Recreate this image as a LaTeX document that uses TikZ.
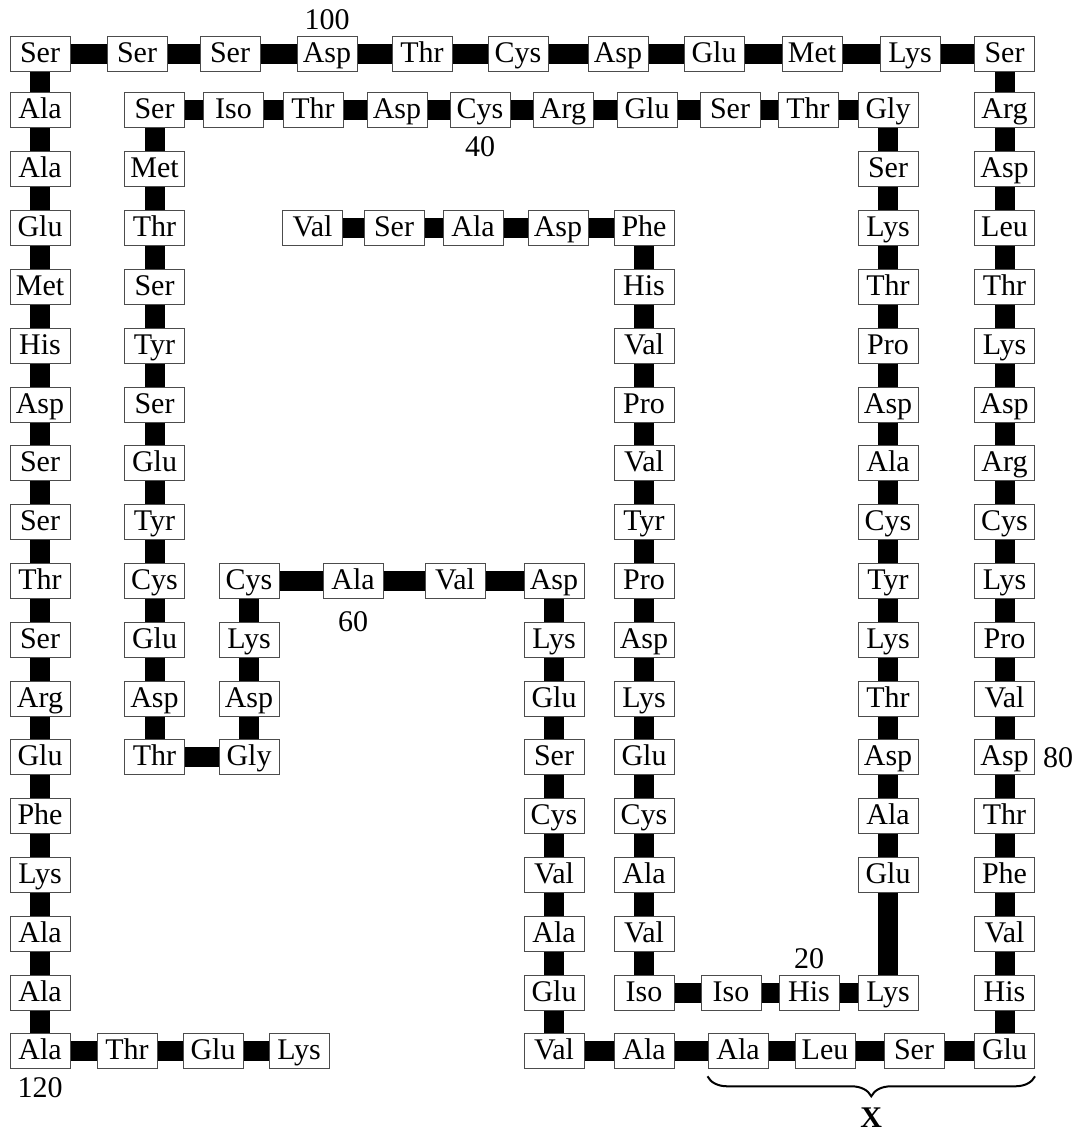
\documentclass[tikz,border=0pt]{standalone}
\usepackage{fontspec}
\setmainfont{Liberation Serif}
\usetikzlibrary{positioning, decorations.pathreplacing}

\tikzset{
  res/.style={draw=black!70, line width=1pt, fill=white, minimum width=60pt, minimum height=35pt,
    inner sep=0pt, text height=21pt, text depth=4pt, font=\fontsize{30}{31}\selectfont},
  bond/.style={line width=20pt, line cap=butt},
  num/.style={inner sep=0pt, font=\fontsize{30}{31}\selectfont},
  xbrace/.style={decorate, decoration={brace, mirror, amplitude=20pt}, line width=2pt},
}

\begin{document}
\begin{tikzpicture}[x=1pt, y=-1pt]
\useasboundingbox (0,0) rectangle (1080,1134);

% Top row
\foreach \x/\lab [count=\i] in {40/Ser, 137/Ser, 230/Ser, 327/Asp, 422/Thr, 518/Cys, 618/Asp, 714/Glu, 812/Met, 910/Lys, 1004.5/Ser}
  \node[res] (top\i) at (\x,54.5) {\lab};

% Outer columns
\foreach \lab [count=\i] in {Ala,Ala,Glu,Met,His,Asp,Ser,Ser,Thr,Ser,Arg,Glu,Phe,Lys,Ala,Ala,Ala}
  \node[res] (lc\i) at (40,{110.5+58.8*(\i-1)}) {\lab};
\foreach \lab [count=\i] in {Arg,Asp,Leu,Thr,Lys,Asp,Arg,Cys,Lys,Pro,Val,Asp,Thr,Phe,Val,His,Glu}
  \node[res] (rc\i) at (1004.5,{110.5+58.8*(\i-1)}) {\lab};

% Bottom left tail
\foreach \x/\lab [count=\i] in {127/Thr, 213/Glu, 299/Lys}
  \node[res] (bl\i) at (\x,{110.5+58.8*16}) {\lab};

% Inner loop, second row
\foreach \lab [count=\i] in {Ser,Met,Thr,Ser,Tyr,Ser,Glu,Tyr,Cys,Glu,Asp,Thr}
  \node[res] (kc\i) at (154.5,{110.5+58.8*(\i-1)}) {\lab};
\foreach \x/\lab [count=\i] in {233.5/Iso, 313/Thr, 397/Asp, 480/Cys, 563/Arg, 647/Glu, 730/Ser, 808/Thr}
  \node[res] (n\i) at (\x,110.5) {\lab};
\foreach \lab [count=\i] in {Gly,Ser,Lys,Thr,Pro,Asp,Ala,Cys,Tyr,Lys,Thr,Asp,Ala,Glu}
  \node[res] (gc\i) at (888,{110.5+58.8*(\i-1)}) {\lab};
\foreach \x/\lab [count=\i] in {731/Iso, 809/His, 888/Lys}
  \node[res] (h\i) at (\x,{110.5+58.8*15}) {\lab};

% N-terminal arm
\foreach \x/\lab [count=\i] in {312.5/Val, 394/Ser, 473/Ala, 558/Asp}
  \node[res] (v\i) at (\x,{110.5+58.8*2}) {\lab};
\foreach \lab [count=\i from 3] in {Phe,His,Val,Pro,Val,Tyr,Pro,Asp,Lys,Glu,Cys,Ala,Val,Iso}
  \node[res] (pc\i) at (644,{110.5+58.8*(\i-1)}) {\lab};

% Middle loop
\foreach \lab [count=\i from 9] in {Cys,Lys,Asp,Gly}
  \node[res] (dc\i) at (249,{110.5+58.8*(\i-1)}) {\lab};
\foreach \x/\lab [count=\i] in {353/Ala, 455/Val}
  \node[res] (m\i) at (\x,{110.5+58.8*8}) {\lab};
\foreach \lab [count=\i from 9] in {Asp,Lys,Glu,Ser,Cys,Val,Ala,Glu,Val}
  \node[res] (mc\i) at (554,{110.5+58.8*(\i-1)}) {\lab};
\foreach \x/\lab [count=\i] in {644/Ala, 738/Ala, 825/Leu, 914/Ser}
  \node[res] (br\i) at (\x,{110.5+58.8*16}) {\lab};

% Bonds
\foreach \i [evaluate=\i as \j using int(\i+1)] in {1,...,10} \draw[bond] (top\i) -- (top\j);
\foreach \i [evaluate=\i as \j using int(\i+1)] in {1,...,16} {
  \draw[bond] (lc\i) -- (lc\j);
  \draw[bond] (rc\i) -- (rc\j);
}
\draw[bond] (top1) -- (lc1);
\draw[bond] (top11) -- (rc1);
\draw[bond] (lc17) -- (bl1);
\foreach \i [evaluate=\i as \j using int(\i+1)] in {1,2} \draw[bond] (bl\i) -- (bl\j);

\foreach \i [evaluate=\i as \j using int(\i+1)] in {1,...,11} \draw[bond] (kc\i) -- (kc\j);
\draw[bond] (kc1) -- (n1);
\foreach \i [evaluate=\i as \j using int(\i+1)] in {1,...,7} \draw[bond] (n\i) -- (n\j);
\draw[bond] (n8) -- (gc1);
\foreach \i [evaluate=\i as \j using int(\i+1)] in {1,...,13} \draw[bond] (gc\i) -- (gc\j);
\draw[bond] (gc14) -- (h3);
\draw[bond] (pc16) -- (h1);
\draw[bond] (h1) -- (h2);
\draw[bond] (h2) -- (h3);

\foreach \i [evaluate=\i as \j using int(\i+1)] in {1,2,3} \draw[bond] (v\i) -- (v\j);
\draw[bond] (v4) -- (pc3);
\foreach \i [evaluate=\i as \j using int(\i+1)] in {3,...,15} \draw[bond] (pc\i) -- (pc\j);

\foreach \i [evaluate=\i as \j using int(\i+1)] in {9,10,11} \draw[bond] (dc\i) -- (dc\j);
\draw[bond] (kc12) -- (dc12);
\draw[bond] (dc9) -- (m1);
\draw[bond] (m1) -- (m2);
\draw[bond] (m2) -- (mc9);
\foreach \i [evaluate=\i as \j using int(\i+1)] in {9,...,16} \draw[bond] (mc\i) -- (mc\j);
\draw[bond] (mc17) -- (br1);
\foreach \i [evaluate=\i as \j using int(\i+1)] in {1,2,3} \draw[bond] (br\i) -- (br\j);
\draw[bond] (br4) -- (rc17);

% Residue numbers
\node[num, above=7pt of top4] (n100) {100};
\node[num, below=8pt of n4] (n40) {40};
\node[num, below=12pt of m1] (n60) {60};
\node[num, above=6pt of h2] (n20) {20};
\node[num, right=8pt of rc12] (n80) {80};
\node[num, below=8pt of lc17] (n120) {120};

% Segment X
\coordinate (xl) at ([yshift=-7pt]br2.south west);
\coordinate (xr) at ([yshift=-7pt]rc17.south east);
\draw[xbrace] (xl) -- (xr) node[num, midway, below=31pt] (xlab) {\textbf{X}};

\end{tikzpicture}
\end{document}
